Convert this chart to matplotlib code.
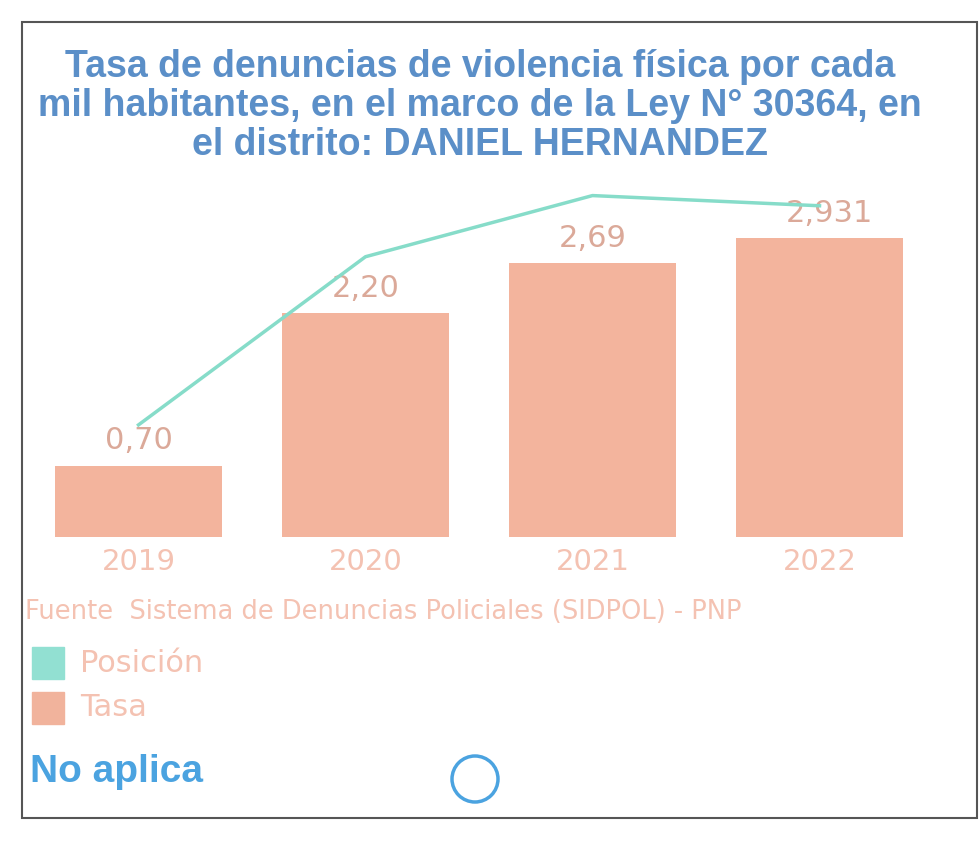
from matplotlib import pyplot as plt
from matplotlib.patches import Rectangle, Ellipse
import numpy as np

# datos
anios = ['2019', '2020', '2021', '2022']
tasa = [0.70, 2.20, 2.69, 2.93]
tasa_txt = ['0,70', '2,20', '2,69', '2,93']
posicion = [1.1, 2.75, 3.35, 3.25]

titulo = ('Tasa de denuncias de violencia física por cada\n'
          'mil habitantes, en el marco de la Ley N° 30364, en\n'
          'el distrito: DANIEL HERNANDEZ')
fuente = 'Fuente  Sistema de Denuncias Policiales (SIDPOL) - PNP'

c_bar = '#f3b49d'
c_line = '#86dcc9'
c_lbl = '#dba999'
c_txt = '#f4c2b2'
c_azul = '#5b8fc8'

plt.rcParams['font.family'] = ['DejaVu Sans']

fig = plt.figure(figsize=(9.8, 8.51), dpi=100)

# marco de la tarjeta
fig.patches.append(Rectangle((22 / 980, 1 - 818 / 851), 955 / 980, 796 / 851,
                             transform=fig.transFigure, fill=False,
                             edgecolor='#555555', linewidth=1.5))

fig.text(0.49, 1 - 106 / 851, titulo, ha='center', va='center', fontsize=27,
         fontweight='bold', color=c_azul, linespacing=1.12, family='Liberation Sans')

ax = fig.add_axes([25 / 980, 1 - 537 / 851, 908 / 980, 372 / 851])
x = np.arange(len(anios))
ax.bar(x, tasa, width=0.74, color=c_bar)
for xi, v, t in zip(x, tasa, tasa_txt):
    ax.text(xi, v + 0.1, t, ha='center', va='bottom', fontsize=22, color=c_lbl)
ax.text(x[-1] + 0.145, tasa[-1] + 0.1, '1', ha='left', va='bottom', fontsize=22, color=c_lbl)
ax.set_xlim(-0.5, 3.5)
ax.set_ylim(0, 3.65)
ax.set_xticks(x)
ax.set_xticklabels(anios, fontsize=21, color=c_txt)
ax.tick_params(axis='x', length=0, pad=8)
ax.set_yticks([])
for s in ax.spines.values():
    s.set_visible(False)

ax2 = ax.twinx()
ax2.plot(x, posicion, color=c_line, linewidth=2.5)
ax2.set_ylim(0, 3.65)
ax2.set_yticks([])
for s in ax2.spines.values():
    s.set_visible(False)

fig.text(25 / 980, 1 - 612 / 851, fuente, ha='left', va='center', fontsize=18.5, color=c_txt)

# leyenda
fig.patches.append(Rectangle((32 / 980, 1 - 679 / 851), 32 / 980, 32 / 851,
                             transform=fig.transFigure, color='#92e0d2'))
fig.text(80 / 980, 1 - 663 / 851, 'Posición', ha='left', va='center', fontsize=22, color=c_txt)
fig.patches.append(Rectangle((32 / 980, 1 - 724 / 851), 32 / 980, 32 / 851,
                             transform=fig.transFigure, color='#f1b39c'))
fig.text(80 / 980, 1 - 708 / 851, 'Tasa', ha='left', va='center', fontsize=22, color=c_txt)

fig.text(30 / 980, 1 - 772 / 851, 'No aplica', ha='left', va='center', fontsize=28,
         fontweight='bold', color='#4ba3e0', family='Liberation Sans')
fig.patches.append(Ellipse((475 / 980, 1 - 779 / 851), 46 / 980, 46 / 851,
                           transform=fig.transFigure, fill=False,
                           edgecolor='#4ba3e0', linewidth=2.5))

plt.savefig('out.png', dpi=100)
